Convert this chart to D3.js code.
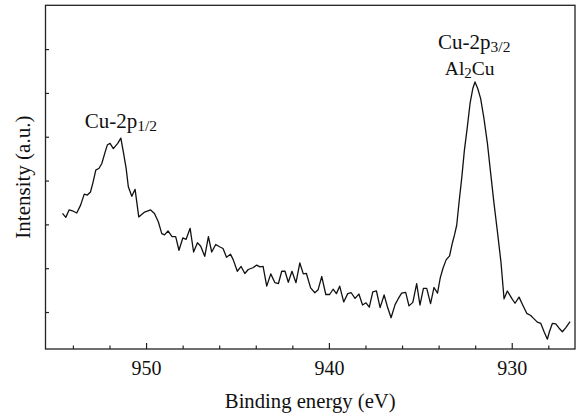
<!DOCTYPE html>
<html>
<head>
<meta charset="utf-8">
<script src="https://cdn.jsdelivr.net/npm/d3@7"></script>
<style>
  html, body { margin: 0; padding: 0; background: #fff; }
</style>
</head>
<body>
<div id="chart"></div>
<script>
// binding energy (eV)
const energy = [
  954.57, 954.39, 954.21, 953.98, 953.79, 953.58, 953.38, 953.21, 953.04, 952.90,
  952.75, 952.57, 952.42, 952.24, 952.12, 951.97, 951.79, 951.55, 951.38, 951.24,
  951.09, 950.97, 950.78, 950.60, 950.40, 950.08, 949.75, 949.54, 949.33, 949.14,
  948.99, 948.80, 948.58, 948.38, 948.20, 947.99, 947.81, 947.59, 947.40, 947.19,
  947.01, 946.79, 946.59, 946.41, 946.19, 945.98, 945.79, 945.60, 945.38, 945.23,
  945.01, 944.80, 944.60, 944.41, 944.16, 943.95, 943.77, 943.60, 943.40, 943.18,
  942.95, 942.76, 942.58, 942.40, 942.22, 942.02, 941.80, 941.59, 941.40, 941.23,
  941.00, 940.77, 940.59, 940.39, 940.17, 939.96, 939.77, 939.59, 939.41, 939.19,
  938.97, 938.78, 938.57, 938.36, 938.16, 937.97, 937.79, 937.60, 937.40, 937.20,
  936.98, 936.80, 936.60, 936.38, 936.20, 936.02, 935.80, 935.62, 935.41, 935.20,
  935.02, 934.83, 934.65, 934.44, 934.25, 934.06, 933.91, 933.76, 933.59, 933.40,
  933.25, 933.13, 933.01, 932.87, 932.73, 932.59, 932.43, 932.28, 932.13, 932.01,
  931.86, 931.70, 931.52, 931.33, 931.15, 930.97, 930.77, 930.59, 930.42, 930.24,
  930.00, 929.82, 929.60, 929.40, 929.18, 928.96, 928.82, 928.60, 928.41, 928.23,
  928.05, 927.94, 927.78, 927.59, 927.41, 927.23, 927.03, 926.81
];

// intensity (a.u.)
const intensity = [
  3.25, 3.16, 3.33, 3.30, 3.26, 3.44, 3.69, 3.67, 3.74, 3.96,
  4.24, 4.28, 4.39, 4.65, 4.81, 4.85, 4.73, 4.85, 4.97, 4.65,
  4.28, 3.86, 3.64, 3.80, 3.17, 3.28, 3.33, 3.25, 3.06, 2.79,
  2.76, 2.85, 2.72, 2.72, 2.41, 2.69, 2.66, 2.91, 2.37, 2.58,
  2.50, 2.27, 2.72, 2.37, 2.54, 2.49, 2.45, 2.25, 2.32, 2.19,
  1.93, 2.04, 1.88, 1.97, 2.01, 2.07, 2.03, 2.04, 1.59, 1.87,
  1.67, 1.65, 1.93, 1.93, 1.68, 1.93, 1.67, 2.12, 1.87, 1.88,
  1.55, 1.44, 1.51, 1.81, 1.40, 1.40, 1.52, 1.42, 1.59, 1.23,
  1.42, 1.44, 1.31, 1.41, 1.16, 1.21, 1.11, 1.46, 1.48, 1.10,
  1.39, 1.12, 0.87, 1.17, 1.31, 1.43, 1.45, 1.14, 1.22, 1.65,
  1.16, 1.54, 1.54, 1.19, 1.56, 1.43, 1.78, 2.00, 2.19, 2.28,
  2.57, 2.76, 2.98, 3.55, 4.08, 4.69, 5.22, 5.76, 6.10, 6.25,
  6.10, 5.87, 5.42, 4.85, 4.16, 3.48, 2.79, 2.14, 1.30, 1.48,
  1.31, 1.20, 1.34, 1.16, 0.97, 0.92, 0.86, 0.77, 0.74, 0.55,
  0.38, 0.55, 0.74, 0.73, 0.63, 0.55, 0.65, 0.78
];

const xMajorTicks = [950, 940, 930];
const xMinorTicks = [954, 952, 948, 946, 944, 942, 938, 936, 934, 932, 928];
const yTicks = [1, 2, 3, 4, 5, 6, 7];

// peak annotations
const peakLabels = [
  { e: 951.38, i: 4.97, main: "Cu-2p", sub: "1/2", dy: -10 },
  { e: 932.05, i: 6.25, main: "Cu-2p", sub: "3/2", dy: -33 }
];

const width = 578, height = 416;
const m = { left: 45.5, right: 575, top: 5.3, bottom: 349 };
const serif = "Liberation Serif";

const svg = d3.select("#chart").append("svg")
  .attr("width", width)
  .attr("height", height);

const x = d3.scaleLinear().domain([955.5, 926.54]).range([m.left, m.right]);
const y = d3.scaleLinear().domain([0.156, 8]).range([m.bottom, m.top]);

const axisColor = "#222";

// minor x ticks (inward)
svg.append("g")
  .attr("transform", `translate(0,${m.bottom})`)
  .call(d3.axisBottom(x).tickValues(xMinorTicks).tickSize(-3.5).tickFormat(""))
  .call(g => g.select(".domain").remove())
  .call(g => g.selectAll("line").attr("stroke", axisColor).attr("stroke-width", 1.2));

// major x ticks with labels
svg.append("g")
  .attr("transform", `translate(0,${m.bottom})`)
  .call(d3.axisBottom(x).tickValues(xMajorTicks).tickSizeInner(-6).tickSizeOuter(0).tickPadding(12))
  .attr("font-family", serif)
  .attr("font-size", 20)
  .call(g => g.select(".domain").remove())
  .call(g => g.selectAll("line").attr("stroke", axisColor).attr("stroke-width", 1.2))
  .call(g => g.selectAll("text").attr("fill", "#111"));

// y ticks, no labels
svg.append("g")
  .attr("transform", `translate(${m.left},0)`)
  .call(d3.axisLeft(y).tickValues(yTicks).tickSize(-3.5).tickFormat(""))
  .call(g => g.select(".domain").remove())
  .call(g => g.selectAll("line").attr("stroke", axisColor).attr("stroke-width", 1.2));

// frame
svg.append("rect")
  .attr("x", m.left)
  .attr("y", m.top)
  .attr("width", m.right - m.left)
  .attr("height", m.bottom - m.top)
  .attr("fill", "none")
  .attr("stroke", axisColor)
  .attr("stroke-width", 1.3);

// spectrum
const data = energy.map((e, k) => ({ e: e, i: intensity[k] }));
const line = d3.line()
  .x(d => x(d.e))
  .y(d => y(d.i));

svg.append("path")
  .datum(data)
  .attr("fill", "none")
  .attr("stroke", "#111")
  .attr("stroke-width", 1.3)
  .attr("stroke-linejoin", "round")
  .attr("d", line);

// peak labels
peakLabels.forEach(p => {
  const t = svg.append("text")
    .attr("x", x(p.e))
    .attr("y", y(p.i) + p.dy)
    .attr("text-anchor", "middle")
    .attr("font-family", serif)
    .attr("font-size", 21)
    .attr("fill", "#111");
  t.append("tspan").text(p.main);
  t.append("tspan")
    .attr("font-size", 15.5)
    .attr("dy", 3)
    .text(p.sub);
});

// Al2Cu
const al = svg.append("text")
  .attr("x", x(932.3))
  .attr("y", y(6.25) - 7)
  .attr("text-anchor", "middle")
  .attr("font-family", serif)
  .attr("font-size", 19.5)
  .attr("fill", "#111");
al.append("tspan").text("Al");
al.append("tspan").attr("font-size", 15).attr("dy", 3).text("2");
al.append("tspan").attr("dy", -3).text("Cu");

// axis titles
svg.append("text")
  .attr("x", (m.left + m.right) / 2)
  .attr("y", 408)
  .attr("text-anchor", "middle")
  .attr("font-family", serif)
  .attr("font-size", 20.7)
  .attr("fill", "#111")
  .text("Binding energy (eV)");

svg.append("text")
  .attr("transform", `translate(30,${(m.top + m.bottom) / 2}) rotate(-90)`)
  .attr("text-anchor", "middle")
  .attr("font-family", serif)
  .attr("font-size", 21)
  .attr("fill", "#111")
  .text("Intensity (a.u.)");
</script>
</body>
</html>
